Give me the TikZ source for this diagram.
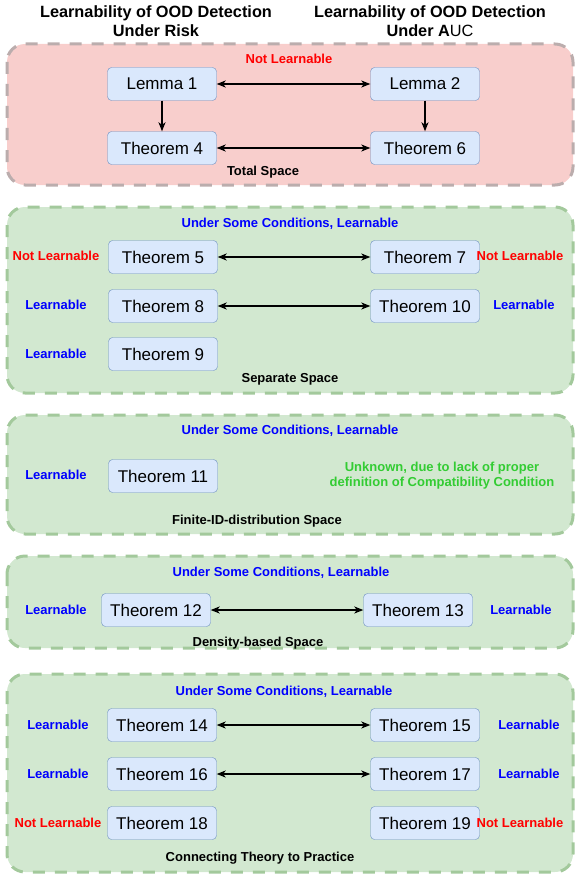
\documentclass[tikz,border=0pt]{standalone}
\usepackage{fontspec}
\setmainfont{Liberation Sans}
\usetikzlibrary{arrows.meta}
\definecolor{thmfill}{HTML}{DAE8FC}
\definecolor{thmdraw}{HTML}{6C8EBF}
\definecolor{redfill}{HTML}{F8CECC}
\definecolor{greenfill}{HTML}{D2E8D0}
\definecolor{reddash}{HTML}{BBADAD}
\definecolor{greendash}{HTML}{A3C99C}
\definecolor{okgreen}{HTML}{33CC33}
\begin{document}
\begin{tikzpicture}[x=1pt,y=-1pt,every node/.style={font=\fontsize{13}{15}\selectfont\bfseries},
  thm/.style={draw=thmdraw,fill=thmfill,rounded corners=4pt,minimum width=109pt,minimum height=33pt,font=\fontsize{17}{20}\selectfont},
  panel/.style={line width=3pt,dash pattern=on 12pt off 10pt,rounded corners=18pt},
  redpanel/.style={panel,draw=reddash,fill=redfill},
  greenpanel/.style={panel,draw=greendash,fill=greenfill},
  yes/.style={text=blue}, no/.style={text=red},
  title/.style={align=center,font=\fontsize{16.3}{19.5}\selectfont\bfseries},
  link/.style={{Stealth[length=9pt,width=7pt,inset=2.5pt]}-{Stealth[length=9pt,width=7pt,inset=2.5pt]},line width=1.2pt},
  down/.style={-{Stealth[length=9pt,width=7pt,inset=2.5pt]},line width=1.2pt}]
\useasboundingbox (0,0) rectangle (581,880);
% headers
\node[title] (riskhead) at (156,21) {Learnability of OOD Detection\\Under Risk};
\node[title] (auchead) at (430,21) {Learnability of OOD Detection\\Under A{\mdseries UC}};
% panels
\draw[redpanel] (7,44) rectangle (573,185);
\draw[greenpanel] (7,207) rectangle (573,393);
\draw[greenpanel] (7,415) rectangle (573,534);
\draw[greenpanel] (7,556) rectangle (573,648);
\draw[greenpanel] (7,674) rectangle (573,872);
% total space
\node[no] (tnot) at (289,59) {Not Learnable};
\node[thm] (lem1) at (162,84) {Lemma 1}; \node[thm] (lem2) at (425,84) {Lemma 2};
\node[thm] (thm4) at (162,148) {Theorem 4}; \node[thm] (thm6) at (425,148) {Theorem 6};
\node (total) at (263,172) {Total Space};
\draw[link] (lem1)--(lem2); \draw[link] (thm4)--(thm6);
\draw[down] (lem1)--(thm4); \draw[down] (lem2)--(thm6);
% separate space
\node[yes] (scond) at (290,224) {Under Some Conditions, Learnable};
\node[thm] (thm5) at (163,257) {Theorem 5}; \node[thm] (thm7) at (425,257) {Theorem 7};
\node[thm] (thm8) at (163,306) {Theorem 8}; \node[thm] (thm10) at (425,306) {Theorem 10};
\node[thm] (thm9) at (163,354) {Theorem 9};
\node[no] (l5) at (56,256) {Not Learnable}; \node[no] (r7) at (520,256) {Not Learnable};
\node[yes] (l8) at (56,305) {Learnable}; \node[yes] (r10) at (524,305) {Learnable};
\node[yes] (l9) at (56,354) {Learnable};
\node (separate) at (290,379) {Separate Space};
\draw[link] (thm5)--(thm7); \draw[link] (thm8)--(thm10);
% finite-ID-distribution space
\node[yes] (fcond) at (290,431) {Under Some Conditions, Learnable};
\node[thm] (thm11) at (163,476) {Theorem 11};
\node[yes] (l11) at (56,475) {Learnable};
\node[text=okgreen,align=center] (unknown) at (442,476) {Unknown, due to lack of proper\\definition of Compatibility Condition};
\node (finite) at (257,521) {Finite-ID-distribution Space};
% density-based space
\node[yes] (dcond) at (281,573) {Under Some Conditions, Learnable};
\node[thm] (thm12) at (156,610) {Theorem 12}; \node[thm] (thm13) at (418,610) {Theorem 13};
\node[yes] (l12) at (56,610) {Learnable}; \node[yes] (r13) at (521,610) {Learnable};
\node (density) at (258,643) {Density-based Space};
\draw[link] (thm12)--(thm13);
% connecting theory to practice
\node[yes] (ccond) at (284,692) {Under Some Conditions, Learnable};
\node[thm] (thm14) at (162,725) {Theorem 14}; \node[thm] (thm15) at (425,725) {Theorem 15};
\node[thm] (thm16) at (162,774) {Theorem 16}; \node[thm] (thm17) at (425,774) {Theorem 17};
\node[thm] (thm18) at (162,823) {Theorem 18}; \node[thm] (thm19) at (425,823) {Theorem 19};
\node[yes] (l14) at (58,725) {Learnable}; \node[yes] (r15) at (529,725) {Learnable};
\node[yes] (l16) at (58,774) {Learnable}; \node[yes] (r17) at (529,774) {Learnable};
\node[no] (l18) at (58,823) {Not Learnable}; \node[no] (r19) at (520,823) {Not Learnable};
\node (practice) at (260,858) {Connecting Theory to Practice};
\draw[link] (thm14)--(thm15); \draw[link] (thm16)--(thm17);
\end{tikzpicture}
\end{document}
